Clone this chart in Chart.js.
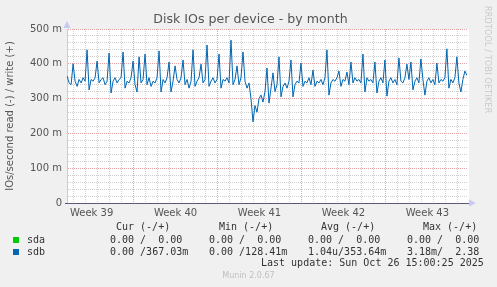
<!DOCTYPE html>
<html>
<head>
<meta charset="utf-8">
<script src="https://cdn.jsdelivr.net/npm/chart.js@4"></script>
<style>
  html, body { margin: 0; padding: 0; background: #f0f0f0; }
  #wrap { position: relative; width: 497px; height: 287px; overflow: hidden; }
  #graph { position: absolute; left: 0; top: 0; }
  .title { position: absolute; left: 0; width: 497px; top: 11px; text-align: center; font: 12.6px "DejaVu Sans", sans-serif; color: #555; line-height: 16px; padding-left: 2px; }
  .t { position: absolute; white-space: pre; font: 10px "DejaVu Sans Mono", monospace; color: #333; line-height: 12px; }
  .sq { position: absolute; width: 6px; height: 6px; }
  .rrd { position: absolute; left: 483px; top: 6px; writing-mode: vertical-rl; font: 8px "DejaVu Sans", sans-serif; color: #c8c8c8; letter-spacing: 0.2px; }
  .munin { position: absolute; left: 0; width: 497px; top: 271px; text-align: center; font: 8px "DejaVu Sans", sans-serif; color: #c0c0c0; line-height: 10px; }
</style>
</head>
<body>
<div id="wrap">
  <canvas id="graph" width="497" height="287"></canvas>
  <div class="title">Disk IOs per device - by month</div>
  <div class="t" style="left:116px;top:221px">Cur (-/+)</div>
  <div class="t" style="left:219px;top:221px">Min (-/+)</div>
  <div class="t" style="left:321px;top:221px">Avg (-/+)</div>
  <div class="t" style="left:423px;top:221px">Max (-/+)</div>

  <div class="sq" style="left:13px;top:237px;background:#00cc00"></div>
  <div class="t" style="left:27px;top:234px">sda</div>
  <div class="t" style="left:110px;top:234px">0.00 /  0.00</div>
  <div class="t" style="left:209px;top:234px">0.00 /  0.00</div>
  <div class="t" style="left:308px;top:234px">0.00 /  0.00</div>
  <div class="t" style="left:407px;top:234px">0.00 /  0.00</div>

  <div class="sq" style="left:13px;top:249px;background:#0066b3"></div>
  <div class="t" style="left:27px;top:246px">sdb</div>
  <div class="t" style="left:110px;top:246px">0.00 /367.03m</div>
  <div class="t" style="left:209px;top:246px">0.00 /128.41m</div>
  <div class="t" style="left:308px;top:246px">1.04u/353.64m</div>
  <div class="t" style="left:407px;top:246px">3.18m/  2.38</div>

  <div class="t" style="left:261px;top:257px">Last update: Sun Oct 26 15:00:25 2025</div>
  <div class="munin">Munin 2.0.67</div>
  <div class="rrd">RRDTOOL / TOBI OETIKER</div>
</div>
<script>
// sdb write IOs/s, in milli units, one sample every 4 hours
var sdbWrite = [
  365,345,340,400,350,335,355,345,360,350,
  440,325,355,350,360,408,345,355,360,340,
  350,431,316,350,360,345,355,360,434,330,
  350,345,360,408,340,319,420,345,355,428,
  340,360,335,350,345,360,437,319,355,345,
  360,405,319,350,394,355,345,360,411,340,
  355,330,350,440,335,350,360,399,345,355,
  454,335,350,360,345,355,428,330,355,350,
  360,345,468,340,355,394,340,360,434,350,
  330,345,300,233,280,261,300,310,290,320,
  388,287,330,374,320,340,420,305,335,345,
  330,350,411,305,340,350,345,402,335,350,
  345,360,340,382,335,350,345,355,340,360,
  440,310,345,355,350,360,379,335,355,350,
  376,340,405,345,360,350,355,345,428,319,
  360,350,355,345,405,316,350,360,345,411,
  307,350,360,345,355,340,417,350,345,360,
  399,355,405,325,350,360,345,414,355,310,
  350,360,345,355,340,402,345,355,350,360,
  443,330,355,345,360,420,345,319,355,379,
  367
];
// time in days counted from Mon Sep 22 2025 00:00
var firstDay = 1.458;
var stepDays = 1 / 6;
var weekLabels = ['Week 39', 'Week 40', 'Week 41', 'Week 42', 'Week 43'];
var yTicks = [0, 100, 200, 300, 400, 500];

var points = sdbWrite.map(function (v, i) {
  return { x: firstDay + i * stepDays, y: v };
});

var red = '#e4a4a4';
var gray = '#cfcfcf';

var bgPlugin = {
  id: 'plotbg',
  beforeDraw: function (chart) {
    var a = chart.chartArea, c = chart.ctx;
    c.save();
    c.fillStyle = '#ffffff';
    c.fillRect(a.left, a.top, a.right - a.left + 2, a.bottom - a.top);
    c.restore();
  },
  afterDraw: function (chart) {
    var a = chart.chartArea, c = chart.ctx;
    c.save();
    // axes: zero line and arrows
    c.strokeStyle = '#5a5a78';
    c.lineWidth = 1;
    c.beginPath();
    c.moveTo(a.left - 2, a.bottom + 0.5); c.lineTo(a.right + 2, a.bottom + 0.5);
    c.stroke();
    c.fillStyle = '#c8c8f0';
    c.beginPath();
    c.moveTo(a.left - 3.5, a.top - 1); c.lineTo(a.left + 3.5, a.top - 1); c.lineTo(a.left, a.top - 8);
    c.fill();
    c.beginPath();
    c.moveTo(a.right + 2, a.bottom - 3.5); c.lineTo(a.right + 2, a.bottom + 3.5); c.lineTo(a.right + 9, a.bottom);
    c.fill();
    c.restore();
  }
};

new Chart(document.getElementById('graph'), {
  type: 'line',
  data: {
    datasets: [{
      label: 'sdb',
      data: points,
      borderColor: '#0066b3',
      borderWidth: 1,
      pointRadius: 0,
      tension: 0,
      fill: false
    }]
  },
  options: {
    responsive: false,
    animation: false,
    layout: { padding: { left: 0, right: 30, top: 29, bottom: 0 } },
    plugins: {
      legend: { display: false },
      tooltip: { enabled: false }
    },
    scales: {
      x: {
        type: 'linear',
        min: 1.45,
        max: 34.8,
        afterBuildTicks: function (s) {
          var t = [];
          for (var i = 3; i <= 69; i++) t.push({ value: i / 2 });
          s.ticks = t;
        },
        afterFit: function (s) { s.height = 84; },
        grid: {
          drawTicks: false,
          lineWidth: 1,
          color: function (ctx) {
            var v = ctx.tick ? ctx.tick.value : 0;
            if (!Number.isInteger(v)) return 'rgba(0,0,0,0)';
            return v % 7 === 0 ? red : gray;
          }
        },
        border: { display: false, dash: [1, 1] },
        ticks: {
          autoSkip: false,
          maxRotation: 0,
          minRotation: 0,
          padding: 4,
          color: '#555',
          font: { family: 'DejaVu Sans', size: 10 },
          callback: function (v) {
            var k = (v - 3.5) / 7;
            return Number.isInteger(k) && weekLabels[k] ? weekLabels[k] : '';
          }
        }
      },
      y: {
        min: 0,
        max: 500,
        afterBuildTicks: function (s) {
          var t = [];
          for (var v = 0; v <= 500; v += 20) t.push({ value: v });
          s.ticks = t;
        },
        afterFit: function (s) { s.width = 67; },
        grid: {
          drawTicks: false,
          lineWidth: 1,
          color: function (ctx) {
            var v = ctx.tick ? ctx.tick.value : 0;
            return v % 100 === 0 ? red : gray;
          }
        },
        border: { display: true, color: '#c8c8f0', width: 1, dash: [1, 1] },
        ticks: {
          autoSkip: false,
          padding: 5,
          color: '#555',
          font: { family: 'DejaVu Sans', size: 10 },
          callback: function (v) {
            if (yTicks.indexOf(v) < 0) return '';
            return v === 0 ? '0' : v + ' m';
          }
        },
        title: {
          display: true,
          text: 'IOs/second read (-) / write (+)',
          color: '#555',
          font: { family: 'DejaVu Sans', size: 10 },
          padding: { top: 4, bottom: 0 }
        }
      }
    }
  },
  plugins: [bgPlugin]
});
</script>
</body>
</html>
